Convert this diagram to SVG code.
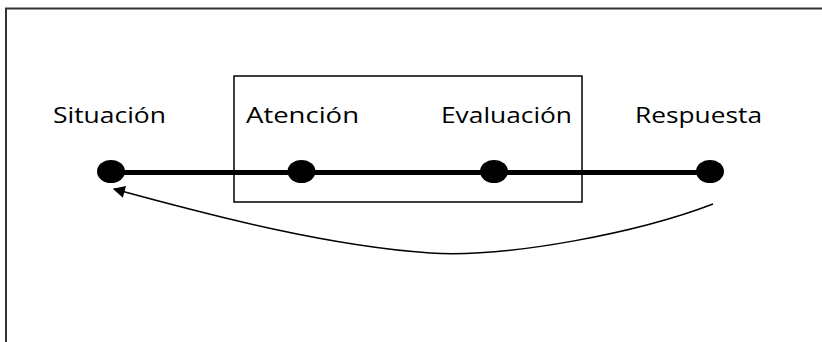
<svg xmlns="http://www.w3.org/2000/svg" width="822" height="342" viewBox="0 0 822 342">
<style>
.lbl{font-family:"Open Sans","Noto Sans",sans-serif;font-size:21px;fill:#000}
.dot{fill:#000}
</style>
<defs>
<marker id="ah" viewBox="0 0 10 10" refX="9" refY="5" markerWidth="14" markerHeight="12" markerUnits="userSpaceOnUse" orient="auto">
<path d="M0,0 L10,5 L0,10 z" fill="#000"/>
</marker>
</defs>
<rect width="822" height="342" fill="#fff"/>
<rect x="6" y="8.5" width="830" height="350" fill="none" stroke="#333" stroke-width="2"/>
<g id="box"><rect x="234" y="76" width="348" height="126" fill="none" stroke="#000" stroke-width="1.5"/></g>
<g id="connectors">
<line x1="110" y1="172.5" x2="711" y2="172.5" stroke="#000" stroke-width="5"/>
<path d="M713 204 C640 232,510 258,430 253 C330 246,220 218,114 189" fill="none" stroke="#000" stroke-width="1.5" marker-end="url(#ah)"/>
</g>
<g id="situacion"><ellipse class="dot" cx="111" cy="171.5" rx="14" ry="11.5"/><text class="lbl" x="53" y="123" textLength="113" lengthAdjust="spacingAndGlyphs">Situación</text></g>
<g id="atencion"><ellipse class="dot" cx="301.5" cy="171.5" rx="14" ry="11.5"/><text class="lbl" x="246" y="123" textLength="113" lengthAdjust="spacingAndGlyphs">Atención</text></g>
<g id="evaluacion"><ellipse class="dot" cx="494" cy="171.5" rx="14" ry="11.5"/><text class="lbl" x="441" y="123" textLength="131" lengthAdjust="spacingAndGlyphs">Evaluación</text></g>
<g id="respuesta"><ellipse class="dot" cx="710" cy="171.5" rx="14" ry="11.5"/><text class="lbl" x="635" y="123" textLength="127" lengthAdjust="spacingAndGlyphs">Respuesta</text></g>
</svg>
